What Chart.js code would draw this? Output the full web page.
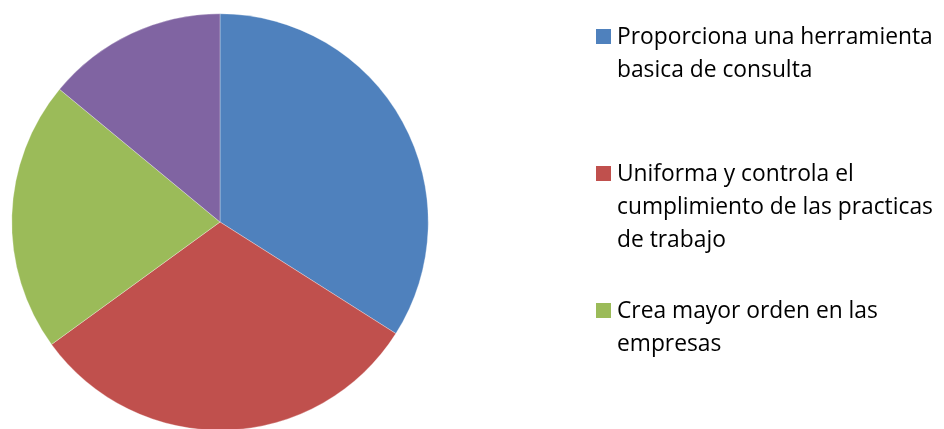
<!DOCTYPE html>
<html>
<head>
<meta charset="utf-8">
<script src="https://cdn.jsdelivr.net/npm/chart.js@4.4.0/dist/chart.umd.min.js"></script>
<style>
  html, body { margin: 0; padding: 0; background: #fff; }
  body { width: 944px; height: 429px; overflow: hidden; position: relative; }
  #pieBox { position: absolute; left: 0; top: 0; width: 440px; height: 444px; }
  #legend { position: absolute; left: 0; top: 0; width: 944px; height: 429px; overflow: hidden;
            font-family: "Open Sans", Lato, sans-serif; font-size: 22.8px; color: #000; }
  .item { position: absolute; left: 596px; }
  .swatch { position: absolute; left: 0; width: 15px; height: 15px; }
  .text { position: absolute; left: 21px; line-height: 33px; white-space: nowrap; }
</style>
</head>
<body>
<div id="pieBox"><canvas id="pie"></canvas></div>
<div id="legend"></div>
<script>
// categories (legend text split per line) and their shares
const categories = [
  ['Proporciona una herramienta', 'basica de consulta'],
  ['Uniforma y controla el', 'cumplimiento de las practicas', 'de trabajo'],
  ['Crea mayor orden en las', 'empresas'],
  ['Otros']
];
const shares = [34, 31, 21, 14];
const colors = ['#4F81BD', '#C0504D', '#9BBB59', '#8064A2'];

// legend: one entry every 137px, first baseline at y=44
const legend = document.getElementById('legend');
categories.forEach((lines, i) => {
  const baseline = 44 + i * 137;
  const item = document.createElement('div');
  item.className = 'item';
  item.style.top = baseline + 'px';

  const sw = document.createElement('div');
  sw.className = 'swatch';
  sw.style.background = colors[i];
  sw.style.top = '-15px';

  const txt = document.createElement('div');
  txt.className = 'text';
  txt.style.top = '-25px';
  txt.innerHTML = lines.join('<br>');

  item.append(sw, txt);
  legend.appendChild(item);
});

const ctx = document.getElementById('pie').getContext('2d');
const pieChart = new Chart(ctx, {
  type: 'pie',
  data: {
    labels: categories.map(l => l.join(' ')),
    datasets: [{
      data: shares,
      backgroundColor: colors,
      borderColor: 'rgba(255,255,255,0.6)',
      borderWidth: 0.5
    }]
  },
  options: {
    responsive: true,
    maintainAspectRatio: false,
    animation: false,
    layout: { padding: 11.5 },
    plugins: {
      legend: { display: false },
      tooltip: { enabled: true }
    }
  }
});
</script>
</body>
</html>
